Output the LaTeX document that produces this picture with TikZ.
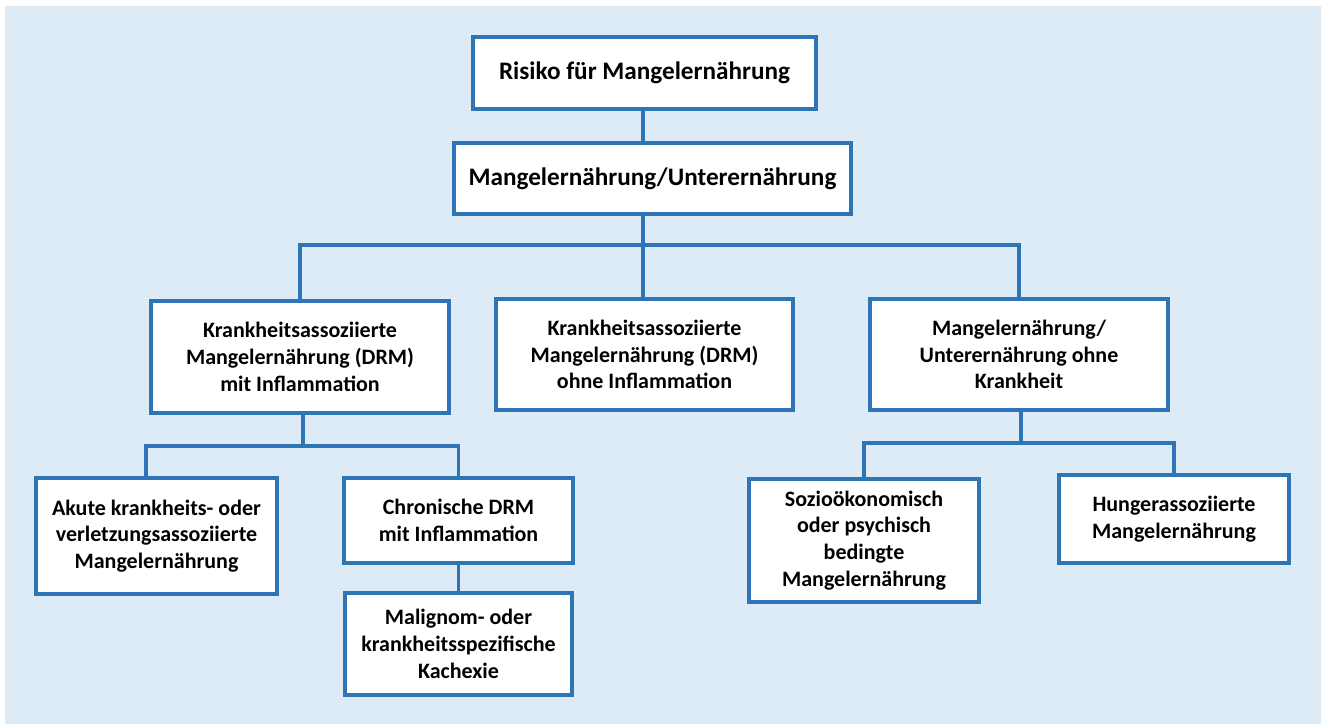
\documentclass[tikz,border=0pt]{standalone}
\usepackage{fontspec}
\setmainfont{Carlito}
\definecolor{bgblue}{HTML}{DDEBF7}
\definecolor{boxblue}{HTML}{2E75B6}

\begin{document}
\begin{tikzpicture}[x=0.5pt,y=-0.5pt,
		box/.style={draw=boxblue, line width=1.6pt, fill=white, align=center, inner sep=0pt,
			font=\bfseries\fontsize{11}{13.4}\selectfont},
		bigbox/.style={box, font=\bfseries\fontsize{12.6}{15}\selectfont},
		link/.style={boxblue, line width=1.6pt}]
		% background
		\useasboundingbox (0,0) rectangle (1321,724);
		\fill[bgblue] (5,6) rectangle (1321,724);
		% top two levels
		\node[bigbox, minimum width=171.5pt, minimum height=36pt] (risk) at (644.5,73) {Risiko für Mangelernährung};
		\node[bigbox, minimum width=198.5pt, minimum height=35.5pt] (mu) at (652.5,178.5) {Mangelernährung/Unterernährung};
		% second level
		\node[box, minimum width=149pt, minimum height=56pt] (drmmit) at (300,357) {Krankheitsassoziierte\\Mangelernährung (DRM)\\mit Inflammation};
		\node[box, minimum width=148.5pt, minimum height=55.5pt] (drmohne) at (644.5,354.5) {Krankheitsassoziierte\\Mangelernährung (DRM)\\ohne Inflammation};
		\node[box, minimum width=149pt, minimum height=55.5pt] (ohnekr) at (1019,354.5) {Mangelernährung/\\Unterernährung ohne\\Krankheit};
		% third level
		\node[box, minimum width=120.5pt, minimum height=58pt] (akut) at (156.5,536) {Akute krankheits- oder\\verletzungsassoziierte\\Mangelernährung};
		\node[box, minimum width=114.5pt, minimum height=42.5pt] (chron) at (458.5,520.5) {Chronische DRM\\mit Inflammation};
		\node[box, minimum width=113.5pt, minimum height=51pt] (malig) at (458.5,644) {Malignom- oder\\krankheitsspezifische\\Kachexie};
		\node[box, minimum width=115pt, minimum height=61.5pt] (sozio) at (864,540.5) {Sozioökonomisch\\oder psychisch\\bedingte\\Mangelernährung};
		\node[box, minimum width=115pt, minimum height=44pt] (hunger) at (1174,519) {Hungerassoziierte\\Mangelernährung};
		% connectors
		\coordinate (topbus) at (643,245);
		\coordinate (leftbus) at (303,446);
		\coordinate (rightbus) at (1021,443);
		\draw[link] (risk.south -| topbus) -- (mu.north -| topbus);
		\draw[link] (mu.south -| topbus) -- (topbus);
		\draw[link] (drmmit.north) |- (topbus) -| (ohnekr.north);
		\draw[link] (topbus) -- (drmohne.north -| topbus);
		\draw[link] (drmmit.south -| leftbus) -- (leftbus);
		\draw[link] ([xshift=-5.25pt]akut.north) |- (leftbus) -| (chron.north);
		\draw[link] (chron.south) -- (malig.north);
		\draw[link] (ohnekr.south -| rightbus) -- (rightbus);
		\draw[link] (sozio.north) |- (rightbus) -| (hunger.north);
	\end{tikzpicture}
\end{document}
